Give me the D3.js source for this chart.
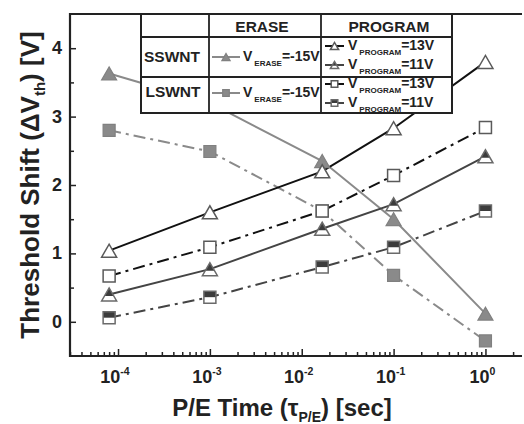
<!DOCTYPE html>
<html>
<head>
<meta charset="utf-8">
<script src="https://cdn.jsdelivr.net/npm/d3@7"></script>
<style>
  body { margin: 0; background: #fff; }
  text { font-family: "Liberation Sans", Arial, sans-serif; font-weight: bold; }
</style>
</head>
<body>
<div id="chart"></div>
<script>
// P/E time in seconds
var times = [8e-5, 1e-3, 1.67e-2, 1e-1, 1];

var sswntErase = [3.63, 3.2, 2.35, 1.5, 0.12];
var sswntProg13 = [1.04, 1.6, 2.2, 2.83, 3.8];
var sswntProg11 = [0.4, 0.77, 1.36, 1.72, 2.42];
var lswntErase = [2.8, 2.49, 1.62, 0.68, -0.28];
var lswntProg13 = [0.67, 1.09, 1.62, 2.14, 2.84];
var lswntProg11 = [0.06, 0.36, 0.8, 1.09, 1.62];

var xMajor = [-4, -3, -2, -1, 0];
var yMajor = [0, 1, 2, 3, 4];

var series = [
  {values: sswntErase, marker: "tri", style: "fill", line: "#8a8a8a", dash: null},
  {values: lswntErase, marker: "sq", style: "fill", line: "#8a8a8a", dash: "12,5,3,5"},
  {values: sswntProg13, marker: "tri", style: "open", line: "#111", dash: null},
  {values: lswntProg13, marker: "sq", style: "open", line: "#111", dash: "12,5,3,5"},
  {values: sswntProg11, marker: "tri", style: "half", line: "#444", dash: null},
  {values: lswntProg11, marker: "sq", style: "half", line: "#444", dash: "12,5,3,5"}
];

var width = 524, height = 424;
var pLeft = 70, pRight = 522, pTop = 14, pBottom = 356;

var svg = d3.select("#chart").append("svg")
    .attr("width", width)
    .attr("height", height);

var x = d3.scaleLog().domain([3e-5, 2.5]).range([pLeft, pRight]);
var y = d3.scaleLinear().domain([-0.5, 4.5]).range([pBottom, pTop]);

// ---- axes ----
var minorX = x.ticks().filter(function(d) {
  return Math.abs(Math.log10(d) - Math.round(Math.log10(d))) > 1e-6;
});
svg.append("g")
  .attr("transform", "translate(0," + pBottom + ")")
  .call(d3.axisBottom(x).tickValues(minorX).tickSize(-4).tickFormat(""))
  .call(function(g) { g.select(".domain").remove(); })
  .selectAll("line").attr("stroke", "#222").attr("stroke-width", 1.5);
svg.append("g")
  .attr("transform", "translate(0," + pBottom + ")")
  .call(d3.axisBottom(x).tickValues(xMajor.map(function(p) { return Math.pow(10, p); })).tickSize(-7).tickFormat(""))
  .call(function(g) { g.select(".domain").remove(); })
  .selectAll("line").attr("stroke", "#222").attr("stroke-width", 1.5);

svg.append("g")
  .attr("transform", "translate(" + pLeft + ",0)")
  .call(d3.axisLeft(y).tickValues([0.5, 1.5, 2.5, 3.5]).tickSize(-4).tickFormat(""))
  .call(function(g) { g.select(".domain").remove(); })
  .selectAll("line").attr("stroke", "#222").attr("stroke-width", 1.5);
svg.append("g")
  .attr("transform", "translate(" + pLeft + ",0)")
  .call(d3.axisLeft(y).tickValues(yMajor).tickSize(-6).tickFormat(""))
  .call(function(g) { g.select(".domain").remove(); })
  .selectAll("line").attr("stroke", "#222").attr("stroke-width", 1.5);

// frame
svg.append("path")
  .attr("d", "M" + pRight + "," + pTop + "H" + pLeft + "V" + pBottom + "H" + pRight)
  .attr("fill", "none")
  .attr("stroke", "#222")
  .attr("stroke-width", 2.2);

// tick labels
var xl = svg.append("g").selectAll("text").data(xMajor).enter()
  .append("text")
  .attr("x", function(p) { return x(Math.pow(10, p)) - 3; })
  .attr("y", 383)
  .attr("text-anchor", "middle")
  .attr("font-size", 18)
  .attr("fill", "#222");
xl.append("tspan").text("10");
xl.append("tspan").attr("dy", -8).attr("font-size", 10.5).text(function(p) { return p; });

svg.append("g").selectAll("text").data(yMajor).enter()
  .append("text")
  .attr("x", 62)
  .attr("y", function(d) { return y(d) + 6; })
  .attr("text-anchor", "end")
  .attr("font-size", 18)
  .attr("fill", "#222")
  .text(function(d) { return d; });

// axis titles
var xt = svg.append("text")
  .attr("x", 282)
  .attr("y", 416)
  .attr("text-anchor", "middle")
  .attr("font-size", 24)
  .attr("fill", "#222");
xt.append("tspan").text("P/E Time (\u03c4");
xt.append("tspan").attr("dy", 6).attr("font-size", 14).text("P/E");
xt.append("tspan").attr("dy", -6).text(") [sec]");

var yt = svg.append("text")
  .attr("transform", "translate(39," + ((pTop + pBottom) / 2) + ") rotate(-90)")
  .attr("text-anchor", "middle")
  .attr("font-size", 26)
  .attr("fill", "#222");
yt.append("tspan").text("Threshold Shift (\u0394V");
yt.append("tspan").attr("dy", 6).attr("font-size", 15).text("th");
yt.append("tspan").attr("dy", -6).text(") [V]");

// ---- markers ----
function drawMarker(g, type, style, cx, cy, s) {
  var w, h, outline, topHalf;
  if (type == "tri") {
    w = 15 * s; h = 13 * s;
    outline = "M" + (cx - w / 2) + "," + (cy + h / 2) + "L" + (cx + w / 2) + "," + (cy + h / 2) + "L" + cx + "," + (cy - h / 2) + "Z";
    var f = 0.62;
    topHalf = "M" + cx + "," + (cy - h / 2) + "L" + (cx - w / 2 * f) + "," + (cy - h / 2 + h * f) + "L" + (cx + w / 2 * f) + "," + (cy - h / 2 + h * f) + "Z";
  } else {
    w = 12 * s; h = 12 * s;
    outline = "M" + (cx - w / 2) + "," + (cy - h / 2) + "h" + w + "v" + h + "h" + (-w) + "Z";
    topHalf = "M" + (cx - w / 2) + "," + (cy - h / 2) + "h" + w + "v" + (h / 2) + "h" + (-w) + "Z";
  }
  if (style == "fill") {
    g.append("path").attr("d", outline).attr("fill", "#8a8a8a").attr("stroke", "#808080").attr("stroke-width", 1.2);
  } else if (style == "open") {
    g.append("path").attr("d", outline).attr("fill", "#fff").attr("stroke", "#5a5a5a").attr("stroke-width", 1.5);
  } else {
    g.append("path").attr("d", outline).attr("fill", "#fff");
    g.append("path").attr("d", topHalf).attr("fill", "#3c3c3c");
    g.append("path").attr("d", outline).attr("fill", "none").attr("stroke", "#6a6a6a").attr("stroke-width", 1.5);
  }
}

var line = d3.line()
  .x(function(d, i) { return x(times[i]); })
  .y(function(d) { return y(d); });

series.forEach(function(s) {
  svg.append("path")
    .datum(s.values)
    .attr("d", line)
    .attr("fill", "none")
    .attr("stroke", s.line)
    .attr("stroke-width", 2)
    .attr("stroke-dasharray", s.dash);
});
series.forEach(function(s) {
  var g = svg.append("g");
  s.values.forEach(function(v, i) {
    drawMarker(g, s.marker, s.style, x(times[i]), y(v), 1);
  });
});

// ---- legend table ----
var lg = svg.append("g");
var lx0 = 141, lx1 = 209, lx2 = 321, lx3 = 452;
var ly0 = pTop, ly1 = 37, ly2 = 77, ly3 = 113;

lg.append("rect")
  .attr("x", lx0).attr("y", ly0)
  .attr("width", lx3 - lx0).attr("height", ly3 - ly0)
  .attr("fill", "#fff")
  .attr("stroke", "#222").attr("stroke-width", 2);
[lx1, lx2].forEach(function(cx) {
  lg.append("line").attr("x1", cx).attr("x2", cx).attr("y1", ly0).attr("y2", ly3)
    .attr("stroke", "#222").attr("stroke-width", 1.8);
});
[ly1, ly2].forEach(function(cy) {
  lg.append("line").attr("x1", lx0).attr("x2", lx3).attr("y1", cy).attr("y2", cy)
    .attr("stroke", "#222").attr("stroke-width", 1.8);
});
lg.append("line").attr("x1", pLeft).attr("x2", pRight).attr("y1", pTop).attr("y2", pTop)
  .attr("stroke", "#222").attr("stroke-width", 2.2);

function cellText(tx, ty, txt, size, anchor) {
  return lg.append("text").attr("x", tx).attr("y", ty)
    .attr("font-size", size).attr("text-anchor", anchor || "start")
    .attr("fill", "#222").text(txt);
}
cellText(262, 32, "ERASE", 15.5, "middle");
cellText(389, 32, "PROGRAM", 15.5, "middle");
cellText(172, 62, "SSWNT", 15.5, "middle");
cellText(173, 97, "LSWNT", 15.5, "middle");

function legendEntry(x0, x1, tx, ty, s, sub, val) {
  lg.append("line").attr("x1", x0).attr("x2", x1).attr("y1", ty - 4).attr("y2", ty - 4)
    .attr("stroke", s.line).attr("stroke-width", 2);
  drawMarker(lg, s.marker, s.style, (x0 + x1) / 2, ty - 4, 0.55);
  var t = lg.append("text").attr("x", tx).attr("y", ty).attr("font-size", 14).attr("fill", "#222");
  t.append("tspan").text("V");
  t.append("tspan").attr("dx", 2).attr("dy", 5).attr("font-size", 8).text(sub);
  t.append("tspan").attr("dy", -5).text(val);
}
legendEntry(212, 240, 243, 61, series[0], "ERASE", "=-15V");
legendEntry(212, 240, 243, 97, series[1], "ERASE", "=-15V");
legendEntry(325, 344, 348, 50, series[2], "PROGRAM", "=13V");
legendEntry(325, 344, 348, 69, series[4], "PROGRAM", "=11V");
legendEntry(325, 344, 348, 88, series[3], "PROGRAM", "=13V");
legendEntry(325, 344, 348, 107, series[5], "PROGRAM", "=11V");
</script>
</body>
</html>
